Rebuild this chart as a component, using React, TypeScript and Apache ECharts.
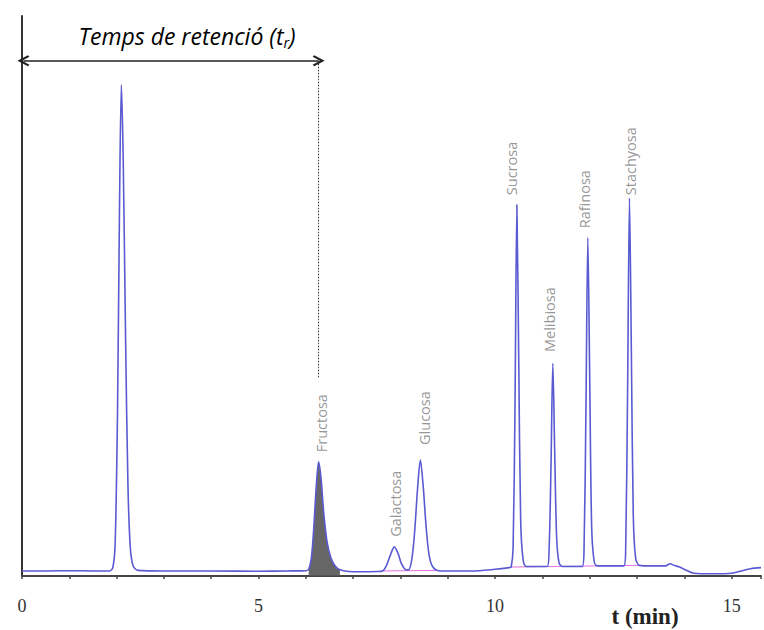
import React, { useEffect, useRef } from "react";
import * as echarts from "echarts";

// Chromatogram trace pieces, [t (min), signal]
const baselineStart = [[0, 0.9], [0.5, 0.9], [1.0, 0.95], [1.5, 0.9], [1.85, 0.9]];
const peakDeadTime = [[1.92, 1.5], [1.97, 6], [2.02, 30], [2.06, 65], [2.1, 87.7], [2.14, 74], [2.19, 42], [2.24, 16], [2.29, 5], [2.35, 1.8], [2.45, 1.0]];
const baselineMid1 = [[3, 0.9], [4, 0.9], [5, 0.85], [5.6, 0.9], [6.0, 0.95]];
const peakFructosa = [[6.06, 1.2], [6.12, 3.5], [6.17, 9], [6.22, 16], [6.27, 20.4], [6.32, 17.5], [6.38, 11], [6.45, 6], [6.53, 3.2], [6.62, 1.8], [6.72, 1.1]];
const baselineMid2 = [[6.9, 0.8], [7.2, 0.75], [7.5, 0.8]];
const peakGalactosa = [[7.62, 0.9], [7.7, 1.8], [7.78, 3.6], [7.87, 5.2], [7.95, 4.0], [8.02, 2.2], [8.1, 1.2]];
const peakGlucosa = [[8.17, 1.1], [8.24, 3], [8.3, 8], [8.36, 15.5], [8.42, 20.7], [8.48, 16], [8.54, 9], [8.6, 4], [8.67, 1.8], [8.78, 1.0], [8.95, 0.9]];
const baselineMid3 = [[9.5, 0.9], [10.0, 1.2], [10.3, 1.5]];
const peakSucrosa = [[10.34, 1.6], [10.38, 5], [10.42, 30], [10.46, 66.3], [10.5, 38], [10.54, 10], [10.59, 3], [10.66, 1.7]];
const peakMelibiosa = [[11.1, 1.7], [11.14, 4.5], [11.18, 19], [11.22, 38.0], [11.26, 22], [11.3, 7], [11.35, 2.4], [11.42, 1.7]];
const peakRafinosa = [[11.84, 1.7], [11.88, 5], [11.92, 30], [11.96, 60.4], [12.0, 35], [12.04, 9], [12.09, 2.8], [12.16, 1.8]];
const peakStachyosa = [[12.72, 1.8], [12.76, 5], [12.8, 33], [12.84, 67.5], [12.88, 40], [12.92, 11], [12.97, 3.2], [13.05, 1.9]];
const baselineEnd = [[13.3, 1.8], [13.6, 1.8], [13.7, 2.2], [13.78, 1.9], [13.9, 1.6], [14.05, 1.0], [14.2, 0.5], [14.6, 0.4], [15.0, 0.5], [15.2, 0.9], [15.4, 1.3], [15.62, 1.5]];

// Integration baselines
const integrationA = [[7.62, 0.9], [8.8, 1.0]];
const integrationB = [[10.34, 1.6], [13.05, 1.9]];

// Peak labels: name, x, y of the label's start
const labelNames = ["Fructosa", "Galactosa", "Glucosa", "Sucrosa", "Melibiosa", "Rafinosa", "Stachyosa"];
const labelX = [6.32, 7.9, 8.5, 10.34, 11.14, 11.89, 12.86];
const labelY = [22.1, 7.0, 23.4, 68.0, 40.0, 62.1, 68.0];

// Retention time annotation
const retentionStart = 0.03;
const retentionEnd = 6.27;
const retentionY = 92;
const dottedBottomY = 35.4;

const xTickLabels = [0, 5, 10, 15];

const arrowPath = "path://M5,0 L10,8 L8.6,9.2 L5,3.6 L1.4,9.2 L0,8 Z";

export default function App() {
  const ref = useRef<HTMLDivElement>(null);
  useEffect(() => {
    if (!ref.current) return;
    const chart = echarts.init(ref.current, null, { renderer: "svg" });
    const trace = [
      ...baselineStart, ...peakDeadTime, ...baselineMid1, ...peakFructosa, ...baselineMid2,
      ...peakGalactosa, ...peakGlucosa, ...baselineMid3, ...peakSucrosa, ...peakMelibiosa,
      ...peakRafinosa, ...peakStachyosa, ...baselineEnd,
    ];
    chart.setOption({
      animation: false,
      grid: { left: 22, right: 0, top: 16, bottom: 54 },
      xAxis: {
        type: "value",
        min: 0,
        max: 15.62,
        interval: 1,
        axisLine: { show: true, lineStyle: { color: "#444", width: 2 } },
        axisTick: { show: true, length: 3, lineStyle: { color: "#444", width: 1.5 } },
        axisLabel: {
          margin: 21,
          fontFamily: "Liberation Serif",
          fontSize: 18,
          color: "#333",
          formatter: (v: number) => (xTickLabels.includes(v) ? String(v) : ""),
        },
        splitLine: { show: false },
      },
      yAxis: {
        type: "value",
        min: 0,
        max: 100,
        axisLine: { show: true, lineStyle: { color: "#333", width: 2 } },
        axisTick: { show: false },
        axisLabel: { show: false },
        splitLine: { show: false },
      },
      series: [
        {
          type: "line",
          data: peakFructosa,
          smooth: 0.3,
          symbol: "none",
          lineStyle: { width: 0 },
          areaStyle: { color: "#555555", opacity: 0.9 },
          silent: true,
          z: 1,
        },
        {
          type: "line",
          data: integrationA,
          symbol: "none",
          lineStyle: { color: "#e070e0", width: 1 },
          silent: true,
          z: 2,
        },
        {
          type: "line",
          data: integrationB,
          symbol: "none",
          lineStyle: { color: "#e070e0", width: 1 },
          silent: true,
          z: 2,
        },
        {
          type: "line",
          data: trace,
          smooth: 0.3,
          symbol: "none",
          lineStyle: { color: "#5a5ad2", width: 1.6 },
          silent: true,
          z: 3,
          markLine: {
            silent: true,
            symbol: "none",
            label: { show: false },
            data: [
              [
                { coord: [retentionStart, retentionY], symbol: arrowPath, symbolSize: [11, 12], lineStyle: { color: "#222", width: 1.5, type: "solid" } },
                { coord: [retentionEnd, retentionY], symbol: arrowPath, symbolSize: [11, 12] },
              ],
              [
                { coord: [retentionEnd, retentionY], lineStyle: { color: "#333", width: 1, type: [1.5, 1.5] } },
                { coord: [retentionEnd, dottedBottomY] },
              ],
            ],
          },
        },
        {
          type: "scatter",
          symbolSize: 0,
          silent: true,
          data: labelNames.map((n, i) => ({ name: n, value: [labelX[i], labelY[i]] })),
          label: {
            show: true,
            formatter: "{b}",
            position: "inside",
            rotate: 90,
            align: "left",
            verticalAlign: "middle",
            fontFamily: "Open Sans",
            fontSize: 14.5,
            color: "#7a7a7a",
          },
          z: 4,
        },
      ],
      graphic: [
        {
          type: "text",
          x: 187,
          y: 36,
          style: {
            text: "{a|Temps de retenció (t}{b|r}{a|)}",
            textAlign: "center",
            textVerticalAlign: "middle",
            rich: {
              a: { fontFamily: "Open Sans", fontStyle: "italic", fontSize: 23, color: "#2a2a2a", lineHeight: 30 },
              b: { fontFamily: "Open Sans", fontStyle: "italic", fontSize: 14, color: "#2a2a2a", lineHeight: 30, padding: [12, 0, 0, 0] },
            },
          },
        },
        {
          type: "text",
          x: 645,
          y: 616,
          style: {
            text: "t (min)",
            textAlign: "center",
            textVerticalAlign: "middle",
            fontFamily: "Liberation Serif",
            fontWeight: "bold",
            fontSize: 23,
            fill: "#222",
          },
        },
      ],
    });
    return () => chart.dispose();
  }, []);
  return <div ref={ref} style={{ width: 764, height: 630, position: "absolute", left: 0, top: 0 }} />;
}
